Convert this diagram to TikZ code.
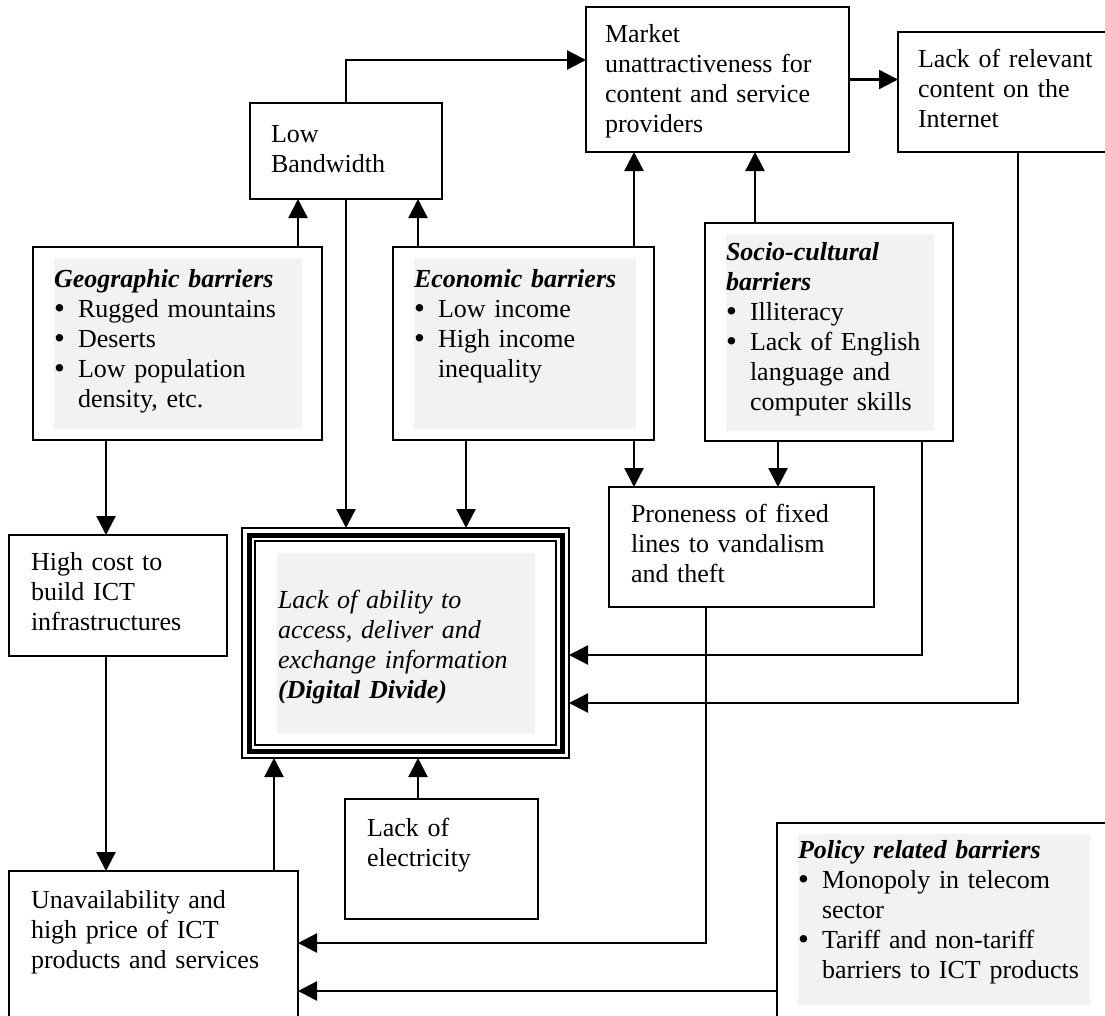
\documentclass[tikz,border=0pt]{standalone}
\usepackage{fontspec}
\setmainfont{Liberation Serif}
\usetikzlibrary{arrows.meta}

\definecolor{hilite}{HTML}{F2F2F2}
\newcommand\bitem{\par\hangindent=24pt\hangafter=1\noindent\makebox[24pt][l]{\raisebox{-1pt}{\fontsize{31}{30}\selectfont\textbullet}}}
\newcommand\brk{\hfil\break}

\tikzset{every picture/.style={line width=2.4pt}}
\tikzset{
  blk/.style n args={4}{draw, line width=2.6pt, anchor=north west, outer sep=0pt, inner ysep=0pt,
    inner xsep=#1, text width=#2, text height=#3, text depth=#4, align=left,
    font=\fontsize{26}{30}\selectfont},
  arr/.style={-{Triangle[length=19pt,width=19pt]}, line width=2.4pt},
  hl/.style={fill=hilite}
}

\begin{document}
\begin{tikzpicture}[x=1pt,y=-1pt]
\useasboundingbox (0,0) rectangle (1105,1015);
\clip (0,0) rectangle (1105,1015);

%Shading behind the barrier texts
\fill[hl] (54,258) rectangle (302,429);
\fill[hl] (414,258) rectangle (636,429);
\fill[hl] (726,234) rectangle (934,431);
\fill[hl] (277,553) rectangle (535,734);
\fill[hl] (798,834) rectangle (1090,1005);

%Top row
\node[blk={21pt}{150pt}{39pt}{57pt}] (lb) at (250,103) {Low\\Bandwidth};
\node[blk={19pt}{225pt}{35pt}{110pt}] (mk) at (586,7) {Market\\unattractiveness for\\content and service\\providers};
\node[blk={20pt}{200pt}{35pt}{85pt}] (ct) at (898,32) {Lack of relevant\\content on the\\Internet};

%Barriers
\node[blk={21pt}{247pt}{40pt}{153pt}] (geo) at (33,247) {\textbf{\textit{Geographic barriers}}
  \bitem Rugged mountains
  \bitem Deserts
  \bitem Low population\brk density, etc.\par};
\node[blk={21pt}{219pt}{40pt}{153pt}] (eco) at (393,247) {\textbf{\textit{Economic barriers}}
  \bitem Low income
  \bitem High income\brk inequality\par};
\node[blk={21pt}{206pt}{37pt}{181pt}] (soc) at (705,223) {\textbf{\textit{Socio-cultural\\barriers}}
  \bitem Illiteracy
  \bitem Lack of English\brk language and\brk computer skills\par};
\node[blk={21pt}{298pt}{35pt}{175pt}] (po) at (777,823) {\textbf{\textit{Policy related barriers}}
  \bitem Monopoly in telecom\brk sector
  \bitem Tariff and non-tariff\brk barriers to ICT products\par};

%Middle and bottom
\node[blk={22pt}{221pt}{35pt}{85pt}] (pr) at (609,487) {Proneness of fixed\\lines to vandalism\\and theft};
\node[blk={22pt}{174pt}{35pt}{86pt}] (hc) at (9,535) {High cost to\\build ICT\\infrastructures};
\node[blk={22pt}{149pt}{37pt}{83pt}] (el) at (345,799) {Lack of\\electricity};
\node[blk={22pt}{245pt}{37pt}{123pt}] (un) at (9,871) {Unavailability and\\high price of ICT\\products and services};

%Digital divide, triple frame
\node[blk={36pt}{255pt}{80pt}{150pt}, line width=2pt] (dd) at (242,528) {\itshape Lack of ability to\\access, deliver and\\exchange information\\\textbf{(Digital Divide)}};
\draw[line width=5pt] ([shift={(7pt,-7pt)}]dd.north west) rectangle ([shift={(-7pt,7pt)}]dd.south east);
\draw[line width=2pt] ([shift={(13pt,-13pt)}]dd.north west) rectangle ([shift={(-13pt,13pt)}]dd.south east);

%Connectors
\draw[arr] ([xshift=265pt]geo.north west) -- ([xshift=48pt]lb.south west);
\draw[arr] ([xshift=25pt]eco.north west) -- ([xshift=168pt]lb.south west);
\draw[arr] (lb.north) |- ([yshift=-53pt]mk.north west);
\draw[arr] (mk.east) -- (mk.east -| ct.west);
\draw[arr] ([xshift=241pt]eco.north west) -- ([xshift=48pt]mk.south west);
\draw[arr] ([xshift=50pt]soc.north west) -- ([xshift=169pt]mk.south west);
\draw[arr] (lb.south) -- ([xshift=104pt]dd.north west);
\draw[arr] ([xshift=73pt]eco.south west) -- ([xshift=224pt]dd.north west);
\draw[arr] ([xshift=73pt]geo.south west) -- ([xshift=97pt]hc.north west);
\draw[arr] ([xshift=241pt]eco.south west) -- ([xshift=25pt]pr.north west);
\draw[arr] ([xshift=73pt]soc.south west) -- ([xshift=169pt]pr.north west);
\draw[arr] ([xshift=217pt]soc.south west) |- ([yshift=-12pt]dd.east);
\draw[arr] ([xshift=120pt]ct.south west) |- ([yshift=-60pt]dd.east);
\draw[arr] ([xshift=97pt]hc.south west) -- ([xshift=97pt]un.north west);
\draw[arr] ([xshift=265pt]un.north west) -- ([xshift=32pt]dd.south west);
\draw[arr] ([xshift=73pt]el.north west) -- ([xshift=176pt]dd.south west);
\draw[arr] ([xshift=97pt]pr.south west) |- ([yshift=8pt]un.east);
\draw[arr] ([yshift=-168pt]po.north west) -- ([yshift=-40pt]un.east);

\end{tikzpicture}
\end{document}
